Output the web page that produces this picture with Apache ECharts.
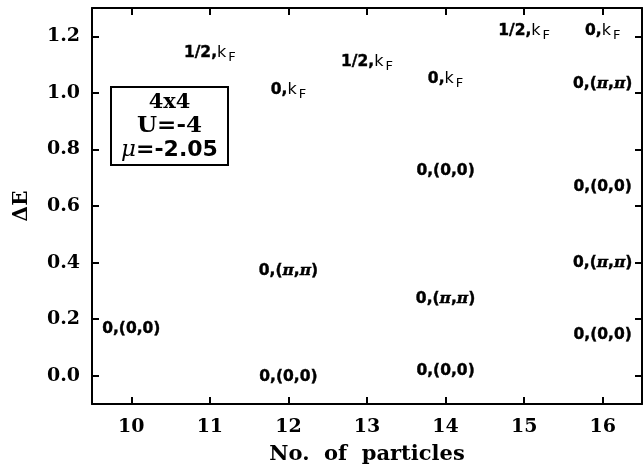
<!DOCTYPE html>
<html>
<head>
<meta charset="utf-8">
<script src="https://cdn.jsdelivr.net/npm/echarts@6/dist/echarts.min.js"></script>
<style>
html,body{margin:0;padding:0;background:#fff;}
#chart{width:644px;height:470px;}
</style>
</head>
<body>
<div id="chart"></div>
<script>
// Data
var particles = [10, 11, 12, 12, 12, 13, 14, 14, 14, 14, 15, 16, 16, 16, 16, 16];
var deltaE    = [0.165, 1.14, 1.01, 0.372, -0.005, 1.11, 1.05, 0.725, 0.27, 0.016, 1.22, 1.22, 1.03, 0.666, 0.40, 0.144];
var stateLabels = ['00', 'hk', '0k', 'pp', '00', 'hk', '0k', '00', 'pp', '00', 'hk', '0k', 'pp', '00', 'pp', '00'];
var xTicks = [10, 11, 12, 13, 14, 15, 16];
var yTicks = [0, 0.2, 0.4, 0.6, 0.8, 1.0, 1.2];
var infoLines = ['4x4', 'U=-4', '=-2.05'];

var labelText = {
  '00': '{b|0,(0,0)}',
  'pp': '{b|0,(}{p|π}{b|,}{p|π}{b|)}',
  '0k': '{b|0,}{k|k}{s|F}',
  'hk': '{b|1/2,}{k|k}{s|F}'
};

var heavy = {textBorderWidth: 0.4, textBorderColor: '#000'};
var light = {textBorderWidth: 0, textBorderColor: 'transparent'};
var rich = {
  b: Object.assign({fontFamily: 'DejaVu Sans', fontWeight: 'bold', fontSize: 15.5, color: '#000'}, heavy),
  p: Object.assign({fontFamily: 'DejaVu Serif', fontWeight: 'bold', fontStyle: 'italic', fontSize: 15.5, color: '#000'}, heavy),
  k: Object.assign({fontFamily: 'DejaVu Sans', fontWeight: 'normal', fontSize: 16, color: '#000'}, light),
  s: Object.assign({fontFamily: 'DejaVu Sans', fontWeight: 'normal', fontSize: 13, color: '#000', padding: [9, 0, 0, 2]}, light)
};

var pts = particles.map(function (x, i) { return {value: [x, deltaE[i]], lab: stateLabels[i]}; });

var axisFont = {fontFamily: 'DejaVu Serif', fontWeight: 'bold', fontSize: 19, color: '#000'};
var lineStyle = {color: '#000', width: 2};

var chart = echarts.init(document.getElementById('chart'), null, {renderer: 'canvas'});
chart.setOption({
  animation: false,
  backgroundColor: '#fff',
  grid: {left: 92, right: 2, top: 8, bottom: 64, containLabel: false},
  xAxis: [{
    type: 'value', min: 9.5, max: 16.5, position: 'bottom',
    name: 'No.  of  particles', nameLocation: 'middle', nameGap: 40,
    nameTextStyle: {fontFamily: 'DejaVu Serif', fontWeight: 'bold', fontSize: 21, color: '#000'},
    axisLine: {show: true, onZero: false, lineStyle: lineStyle},
    axisTick: {show: true, inside: true, length: 7, lineStyle: lineStyle, customValues: xTicks},
    axisLabel: Object.assign({margin: 14, customValues: xTicks, formatter: function (v) { return String(Math.round(v)); }}, axisFont),
    splitLine: {show: false}
  }, {
    type: 'value', min: 9.5, max: 16.5, position: 'top',
    axisLine: {show: true, onZero: false, lineStyle: lineStyle},
    axisTick: {show: true, inside: true, length: 7, lineStyle: lineStyle, customValues: xTicks},
    axisLabel: {show: false},
    splitLine: {show: false}
  }],
  yAxis: [{
    type: 'value', min: -0.1, max: 1.3, position: 'left',
    name: 'ΔE', nameLocation: 'middle', nameGap: 60, nameRotate: 90,
    nameTextStyle: {fontFamily: 'DejaVu Serif', fontWeight: 'bold', fontSize: 20, color: '#000'},
    axisLine: {show: true, onZero: false, lineStyle: lineStyle},
    axisTick: {show: true, inside: true, length: 7, lineStyle: lineStyle, customValues: yTicks},
    axisLabel: Object.assign({margin: 12, customValues: yTicks, formatter: function (v) { return v.toFixed(1); }}, axisFont),
    splitLine: {show: false}
  }, {
    type: 'value', min: -0.1, max: 1.3, position: 'right',
    axisLine: {show: true, onZero: false, lineStyle: lineStyle},
    axisTick: {show: true, inside: true, length: 7, lineStyle: lineStyle, customValues: yTicks},
    axisLabel: {show: false},
    splitLine: {show: false}
  }],
  series: [{
    type: 'scatter',
    xAxisIndex: 0, yAxisIndex: 0,
    symbolSize: 0,
    itemStyle: {color: '#000', opacity: 1},
    data: pts,
    label: {
      show: true,
      position: 'inside',
      color: '#000',
      opacity: 1,
      formatter: function (p) { return labelText[p.data.lab]; },
      rich: rich
    },
    emphasis: {disabled: true},
    clip: false
  }],
  graphic: [{
    type: 'group',
    left: 110, top: 86,
    children: [{
      type: 'rect',
      shape: {x: 0, y: 0, width: 117, height: 78},
      style: {fill: '#fff', stroke: '#000', lineWidth: 2}
    }, {
      type: 'text',
      style: {x: 58.5, y: 16, text: infoLines[0], align: 'center', verticalAlign: 'middle',
        font: 'bold 21px "DejaVu Serif"', fill: '#000'}
    }, {
      type: 'text',
      style: {x: 58.5, y: 39, text: infoLines[1], align: 'center', verticalAlign: 'middle',
        font: 'bold 23px "DejaVu Serif"', fill: '#000'}
    }, {
      type: 'text',
      style: {x: 58.5, y: 63, align: 'center', verticalAlign: 'middle',
        text: '{m|μ}{t|' + infoLines[2] + '}',
        rich: {
          m: {fontFamily: 'DejaVu Serif', fontStyle: 'italic', fontSize: 23, fill: '#000', color: '#000'},
          t: {fontFamily: 'DejaVu Sans', fontWeight: 'bold', fontSize: 22, fill: '#000', color: '#000'}
        }}
    }]
  }]
});
</script>
</body>
</html>
